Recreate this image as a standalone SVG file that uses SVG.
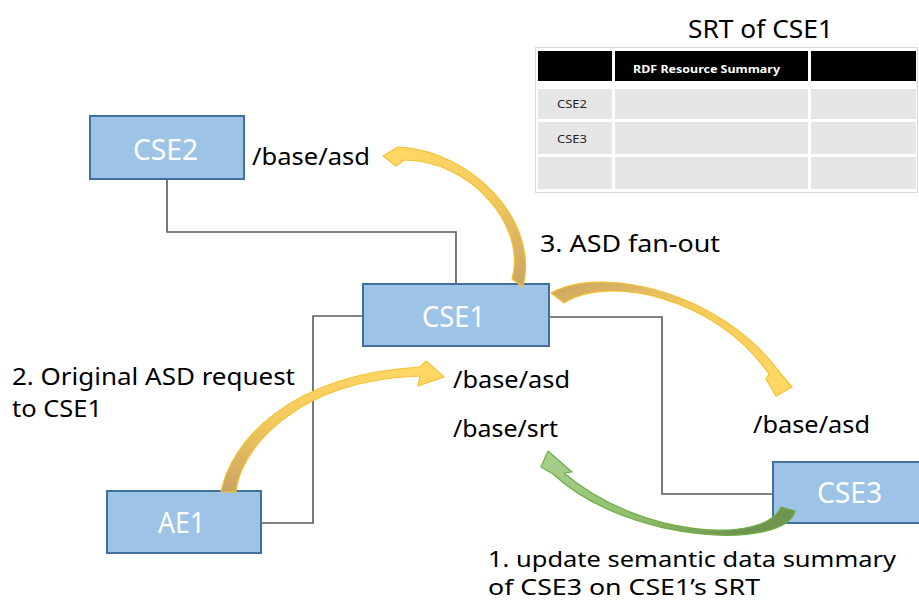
<svg xmlns="http://www.w3.org/2000/svg" width="919" height="601" viewBox="0 0 919 601">
<defs>
<style>
.node rect{fill:#9dc3e6;stroke:#41719c;stroke-width:2}
.node text{fill:#ffffff;font-family:"Noto Sans","Liberation Sans",sans-serif;font-size:29px}
.lbl{fill:#000;font-family:"Noto Sans","Liberation Sans",sans-serif;font-size:24px}
.lbl2{fill:#000;font-family:"Noto Sans","Liberation Sans",sans-serif;font-size:22px}
.conn{fill:none;stroke:#595959;stroke-width:1.6}
.ya{stroke:#f4c030;stroke-width:1.2;stroke-linejoin:round}
.ga{stroke:#70ad47;stroke-width:1.2;stroke-linejoin:round}
.hdr{fill:#000}
.cell{fill:#e6e6e6}
.small{font-family:"Noto Sans","Liberation Sans",sans-serif;font-size:10px;fill:#222}
</style>
<linearGradient id="gA" x1="1" y1="1" x2="0" y2="0">
<stop offset="0" stop-color="#c9a462"/><stop offset="0.45" stop-color="#f5ca5e"/><stop offset="1" stop-color="#ffd966"/>
</linearGradient>
<linearGradient id="gB" x1="0" y1="0" x2="1" y2="1">
<stop offset="0" stop-color="#c9a462"/><stop offset="0.4" stop-color="#f5ca5e"/><stop offset="1" stop-color="#ffd966"/>
</linearGradient>
<linearGradient id="gC" x1="0" y1="1" x2="1" y2="0">
<stop offset="0" stop-color="#c9a462"/><stop offset="0.4" stop-color="#f5ca5e"/><stop offset="1" stop-color="#ffd966"/>
</linearGradient>
<linearGradient id="gD" x1="1" y1="0.5" x2="0" y2="0">
<stop offset="0" stop-color="#6f9450"/><stop offset="0.35" stop-color="#8fbd6a"/><stop offset="1" stop-color="#a9d18e"/>
</linearGradient>
</defs>

<g id="srt-table">
<text x="688" y="38" class="lbl" style="font-size:26px" textLength="145" lengthAdjust="spacingAndGlyphs">SRT of CSE1</text>
<rect x="535.5" y="47.5" width="382" height="145" fill="#ffffff" stroke="#d9d9d9" stroke-width="1"/>
<rect class="hdr" x="538" y="51" width="74" height="30"/>
<rect class="hdr" x="615" y="51" width="193" height="30"/>
<rect class="hdr" x="811" y="51" width="105" height="30"/>
<text x="633" y="73" style="font-family:'Noto Sans','Liberation Sans',sans-serif;font-size:11px;font-weight:bold;fill:#fff" textLength="147" lengthAdjust="spacingAndGlyphs">RDF Resource Summary</text>
<rect class="cell" x="538" y="89" width="74" height="30"/>
<rect class="cell" x="615" y="89" width="193" height="30"/>
<rect class="cell" x="811" y="89" width="105" height="30"/>
<rect class="cell" x="538" y="122" width="74" height="32"/>
<rect class="cell" x="615" y="122" width="193" height="32"/>
<rect class="cell" x="811" y="122" width="105" height="32"/>
<rect class="cell" x="538" y="157" width="74" height="32"/>
<rect class="cell" x="615" y="157" width="193" height="32"/>
<rect class="cell" x="811" y="157" width="105" height="32"/>
<text x="557" y="108" class="small" textLength="30" lengthAdjust="spacingAndGlyphs">CSE2</text>
<text x="557" y="143" class="small" textLength="30" lengthAdjust="spacingAndGlyphs">CSE3</text>
</g>

<g id="connectors">
<path class="conn" d="M167,179 V232 H456 V284"/>
<path class="conn" d="M363,316 H313 V523 H261"/>
<path class="conn" d="M549,317 H662 V494 H773"/>
</g>

<g id="CSE2" class="node">
<rect x="90" y="116" width="154" height="63"/>
<text x="133" y="160" textLength="65" lengthAdjust="spacingAndGlyphs">CSE2</text>
</g>
<g id="CSE1" class="node">
<rect x="363" y="284" width="186" height="62"/>
<text x="422" y="327" textLength="63" lengthAdjust="spacingAndGlyphs">CSE1</text>
</g>
<g id="AE1" class="node">
<rect x="107" y="491" width="154" height="62"/>
<text x="158" y="533" textLength="47" lengthAdjust="spacingAndGlyphs">AE1</text>
</g>
<g id="CSE3" class="node">
<rect x="773" y="462" width="154" height="61"/>
<text x="817" y="503" textLength="65" lengthAdjust="spacingAndGlyphs">CSE3</text>
</g>

<g id="arrows">
<path class="ya" fill="url(#gA)" d="M523,287 C540,220 470,150 398,147 L383,156 L396,166 L404,160 C470,160 527,225 512,279 Z"/>
<path class="ya" fill="url(#gB)" d="M551,293 C600,265 720,290 781,374 L792,387 L776,396 L766,379 L769,374 C715,295 605,275 564,303 Z"/>
<path class="ya" fill="url(#gC)" d="M221,492 C230,445 285,375 420,367 L426,361 L444,377 L418,386 L420,376 C295,380 240,450 236,492 Z"/>
<path class="ga" fill="url(#gD)" d="M548,451 L572,472 L564,473 C640,538 765,545 781,507 L795,511 C785,550 630,545 553,474 L541,467 Z"/>
</g>

<g id="labels">
<text x="252" y="165" class="lbl" textLength="118" lengthAdjust="spacingAndGlyphs">/base/asd</text>
<text x="540" y="252" class="lbl" textLength="180" lengthAdjust="spacingAndGlyphs">3. ASD fan-out</text>
<text x="12" y="385" class="lbl" textLength="283" lengthAdjust="spacingAndGlyphs">2. Original ASD request</text>
<text x="12" y="417" class="lbl" textLength="90" lengthAdjust="spacingAndGlyphs">to CSE1</text>
<text x="453" y="388" class="lbl" textLength="117" lengthAdjust="spacingAndGlyphs">/base/asd</text>
<text x="453" y="437" class="lbl" textLength="105" lengthAdjust="spacingAndGlyphs">/base/srt</text>
<text x="753" y="433" class="lbl" textLength="117" lengthAdjust="spacingAndGlyphs">/base/asd</text>
<text x="488" y="567" class="lbl2" textLength="408" lengthAdjust="spacingAndGlyphs">1. update semantic data summary</text>
<text x="488" y="595" class="lbl2" textLength="272" lengthAdjust="spacingAndGlyphs">of CSE3 on CSE1’s SRT</text>
</g>
</svg>
